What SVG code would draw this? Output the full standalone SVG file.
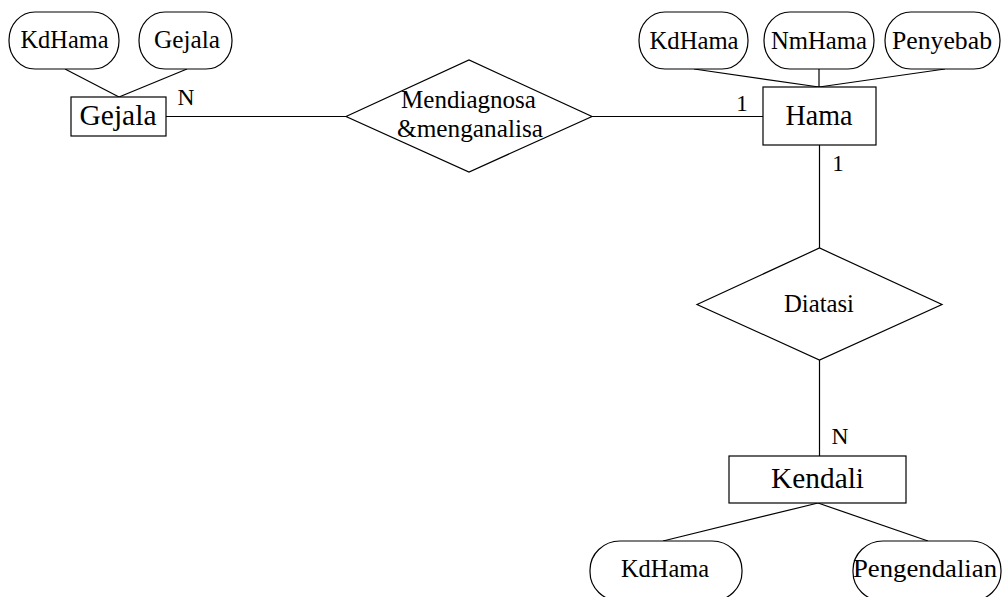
<svg xmlns="http://www.w3.org/2000/svg" width="1002" height="597" viewBox="0 0 1002 597" font-family="'Liberation Serif', 'Times New Roman', Times, serif">
  <style>
    .shape { fill: #fff; stroke: #000; stroke-width: 1.2; }
    .conn line { stroke: #000; stroke-width: 1.2; }
    text { fill: #000; text-anchor: middle; }
    .attr { font-size: 25px; }
    .ent { font-size: 29px; }
    .rel { font-size: 25px; }
    .card { font-size: 23px; }
  </style>
  <rect width="1002" height="597" fill="#fff"/>

  <!-- connectors -->
  <g id="connectors" class="conn">
    <line x1="65" y1="69" x2="119" y2="97"/>
    <line x1="187" y1="69" x2="119" y2="97"/>
    <line x1="166" y1="116.5" x2="346" y2="116.5"/>
    <line x1="592" y1="116.5" x2="763" y2="116.5"/>
    <line x1="694" y1="69" x2="819" y2="87"/>
    <line x1="819" y1="69" x2="819" y2="87"/>
    <line x1="945" y1="69" x2="819" y2="87"/>
    <line x1="819.5" y1="145" x2="819.5" y2="248"/>
    <line x1="819.5" y1="360" x2="819.5" y2="456"/>
    <line x1="818" y1="503" x2="663" y2="541"/>
    <line x1="818" y1="503" x2="928" y2="541"/>
  </g>

  <!-- cardinalities -->
  <g id="cardinalities" class="card">
    <text x="186" y="105" textLength="17" lengthAdjust="spacingAndGlyphs">N</text>
    <text x="742" y="111">1</text>
    <text x="838" y="170.5">1</text>
    <text x="840" y="444" textLength="17" lengthAdjust="spacingAndGlyphs">N</text>
  </g>

  <!-- entity Gejala and attributes -->
  <g id="gejala-kdhama">
    <rect class="shape" x="9" y="12" width="110" height="57" rx="26" ry="28"/>
    <text class="attr" x="64.5" y="48" textLength="88" lengthAdjust="spacingAndGlyphs">KdHama</text>
  </g>
  <g id="gejala-gejala">
    <rect class="shape" x="139" y="12" width="93" height="57" rx="26" ry="28"/>
    <text class="attr" x="187" y="48" textLength="66" lengthAdjust="spacingAndGlyphs">Gejala</text>
  </g>
  <g id="gejala">
    <rect class="shape" x="71" y="97" width="95" height="39"/>
    <text class="ent" x="118" y="125" textLength="77" lengthAdjust="spacingAndGlyphs">Gejala</text>
  </g>

  <!-- relationship Mendiagnosa -->
  <g id="mendiagnosa">
    <polygon class="shape" points="346,116.5 469,60 592,116.5 469,172"/>
    <text class="rel" x="468.5" y="108" textLength="135" lengthAdjust="spacingAndGlyphs">Mendiagnosa</text>
    <text class="rel" x="470" y="137" textLength="146" lengthAdjust="spacingAndGlyphs">&amp;menganalisa</text>
  </g>

  <!-- entity Hama and attributes -->
  <g id="hama-kdhama">
    <rect class="shape" x="639" y="12" width="109" height="57" rx="26" ry="28"/>
    <text class="attr" x="694" y="49" textLength="89" lengthAdjust="spacingAndGlyphs">KdHama</text>
  </g>
  <g id="hama-nmhama">
    <rect class="shape" x="764" y="12" width="110" height="57" rx="26" ry="28"/>
    <text class="attr" x="819" y="49" textLength="96" lengthAdjust="spacingAndGlyphs">NmHama</text>
  </g>
  <g id="hama-penyebab">
    <rect class="shape" x="885" y="12" width="115" height="57" rx="26" ry="28"/>
    <text class="attr" x="942" y="49" textLength="100" lengthAdjust="spacingAndGlyphs">Penyebab</text>
  </g>
  <g id="hama">
    <rect class="shape" x="763" y="87" width="113" height="58"/>
    <text class="ent" x="819" y="125" textLength="67" lengthAdjust="spacingAndGlyphs">Hama</text>
  </g>

  <!-- relationship Diatasi -->
  <g id="diatasi">
    <polygon class="shape" points="697,304.5 819.5,248 942,304.5 819.5,360"/>
    <text class="rel" x="819" y="312" textLength="70" lengthAdjust="spacingAndGlyphs">Diatasi</text>
  </g>

  <!-- entity Kendali and attributes -->
  <g id="kendali">
    <rect class="shape" x="729" y="456" width="177" height="47"/>
    <text class="ent" x="817.5" y="487.5" textLength="93" lengthAdjust="spacingAndGlyphs">Kendali</text>
  </g>
  <g id="kendali-kdhama">
    <rect class="shape" x="590" y="541" width="152" height="60" rx="30" ry="29"/>
    <text class="attr" x="665" y="577" textLength="88" lengthAdjust="spacingAndGlyphs">KdHama</text>
  </g>
  <g id="kendali-pengendalian">
    <rect class="shape" x="853" y="541" width="148" height="60" rx="30" ry="29"/>
    <text class="attr" x="925" y="577" textLength="144" lengthAdjust="spacingAndGlyphs">Pengendalian</text>
  </g>
</svg>
